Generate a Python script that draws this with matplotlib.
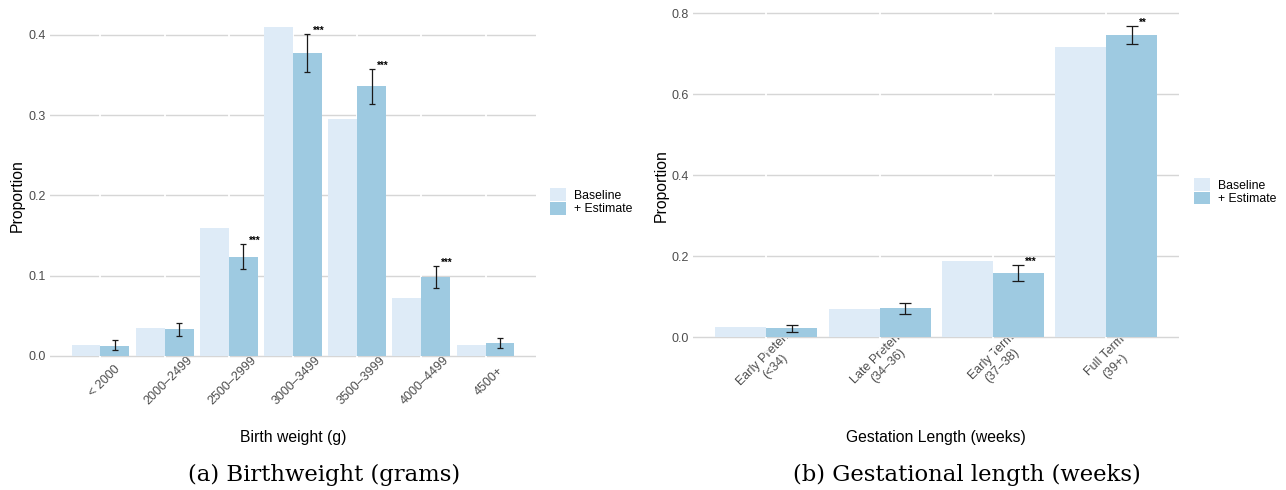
# birthweight and gestation length distributions, baseline vs estimate

import numpy as np
import matplotlib
matplotlib.use("Agg")
import matplotlib.pyplot as plt
from matplotlib.patches import Patch
from matplotlib.transforms import ScaledTranslation

plt.rcParams["font.family"] = ["Liberation Sans", "DejaVu Sans"]

# panel (a): birth weight
bw_cats = ["< 2000", "2000–2499", "2500–2999", "3000–3499", "3500–3999", "4000–4499", "4500+"]
bw_base = [0.014, 0.035, 0.160, 0.410, 0.295, 0.0727, 0.0137]
bw_est = [0.0125, 0.034, 0.123, 0.3775, 0.336, 0.0985, 0.0162]
bw_lo = [0.007, 0.025, 0.108, 0.354, 0.314, 0.085, 0.0104]
bw_hi = [0.0196, 0.041, 0.1395, 0.401, 0.357, 0.1126, 0.022]
bw_sig = ["", "", "***", "***", "***", "***", ""]

# panel (b): gestation length
ga_cats = ["Early Preterm\n(<34)", "Late Preterm\n(34–36)", "Early Term\n(37–38)", "Full Term\n(39+)"]
ga_base = [0.026, 0.0704, 0.188, 0.717]
ga_est = [0.023, 0.0728, 0.159, 0.7464]
ga_lo = [0.014, 0.059, 0.1395, 0.725]
ga_hi = [0.0304, 0.084, 0.179, 0.768]
ga_sig = ["", "", "***", "**"]

yticks_a = [0.0, 0.1, 0.2, 0.3, 0.4]
yticks_b = [0.0, 0.2, 0.4, 0.6, 0.8]

c_base = "#deebf7"
c_est = "#9ecae1"
c_grid = "#d6d6d6"
c_tick = "#4d4d4d"

W, H = 1286, 490
fig = plt.figure(figsize=(W / 100, H / 100), dpi=100)


def px_axes(x0, x1, ytop, ybot):
    return fig.add_axes([x0 / W, 1 - ybot / H, (x1 - x0) / W, (ybot - ytop) / H])


def panel(ax, cats, base, est, lo, hi, sig, yticks, ylim, xlim, cap, star_dx, xlabel,
          tick_pad, xlab_y, ylab_x, leg_xy):
    x = np.arange(len(cats))
    w = 0.45
    ax.set_xlim(*xlim)
    ax.set_ylim(*ylim)
    for s in ax.spines.values():
        s.set_visible(False)
    ax.set_yticks(yticks)
    ax.set_yticklabels([f"{t:.1f}" for t in yticks])
    ax.yaxis.grid(True, color=c_grid, lw=1.0, zorder=0.5)
    ax.set_axisbelow(True)
    for xi in x:
        ax.axvline(xi, color="white", lw=1.3, zorder=0.8)
    ax.tick_params(axis="both", length=0, labelsize=9, labelcolor=c_tick)
    ax.tick_params(axis="y", pad=3.1)
    ax.tick_params(axis="x", pad=tick_pad)

    ax.bar(x - w / 2, base, w, color=c_base, zorder=1, label="Baseline")
    ax.bar(x + w / 2, est, w, color=c_est, zorder=1, label="+ Estimate")
    est = np.array(est)
    yerr = np.vstack([est - np.array(lo), np.array(hi) - est])
    ax.errorbar(x + w / 2, est, yerr=yerr, fmt="none", ecolor="#1a1a1a",
                elinewidth=0.9, capsize=cap, capthick=0.9, zorder=3)
    for xi, h, s in zip(x, hi, sig):
        if s:
            ax.annotate(s, (xi + w / 2, h), xytext=(star_dx, 0.2), textcoords="offset points",
                        fontsize=7, fontweight="bold", ha="left", va="baseline")

    ax.set_xticks(x)
    ax.set_xticklabels(cats, rotation=45, ha="center", va="center",
                       rotation_mode="anchor", multialignment="center")
    off = ScaledTranslation(4 / 100, 0, fig.dpi_scale_trans)
    for lab in ax.get_xticklabels():
        lab.set_transform(lab.get_transform() + off)

    ax.set_xlabel(xlabel, fontsize=11.3, va="center")
    ax.xaxis.set_label_coords(0.5, xlab_y)
    ax.set_ylabel("Proportion", fontsize=11.3, va="center")
    ax.yaxis.set_label_coords(ylab_x, 0.49)

    handles = [Patch(facecolor=c_base, edgecolor="none"), Patch(facecolor=c_est, edgecolor="none")]
    fig.legend(handles, ["Baseline", "+ Estimate"], loc="upper left",
               bbox_to_anchor=(leg_xy[0] / W, 1 - leg_xy[1] / H), frameon=False,
               fontsize=8.8, handlelength=1.27, handleheight=1.25,
               handletextpad=0.66, labelspacing=0.0, borderpad=0.0, borderaxespad=0.0)


ax1 = px_axes(50, 536, 10.5, 372.45)
panel(ax1, bw_cats, bw_base, bw_est, bw_lo, bw_hi, bw_sig, yticks_a,
      (-0.0205, 0.4305), (-0.787, 6.787), 2.5, 3.8, "Birth weight (g)",
      6.1, (372.45 - 437.5) / 362, (17.5 - 50) / 486, (550, 188.3))

ax2 = px_axes(693.3, 1179.3, 10.9, 353.05)
panel(ax2, ga_cats, ga_base, ga_est, ga_lo, ga_hi, ga_sig, yticks_b,
      (-0.0384, 0.8064), (-0.645, 3.645), 4.2, 4.9, "Gestation Length (weeks)",
      5.8, (353.05 - 437.5) / 342.15, (661.7 - 693.3) / 486, (1194, 178))

# subfigure captions
fig.text(323.7 / W, 1 - 475 / H, "(a) Birthweight (grams)", family="DejaVu Serif",
         fontsize=16.4, ha="center", va="center")
fig.text(967 / W, 1 - 475 / H, "(b) Gestational length (weeks)", family="DejaVu Serif",
         fontsize=16.4, ha="center", va="center")

fig.savefig("out.png", dpi=100)
